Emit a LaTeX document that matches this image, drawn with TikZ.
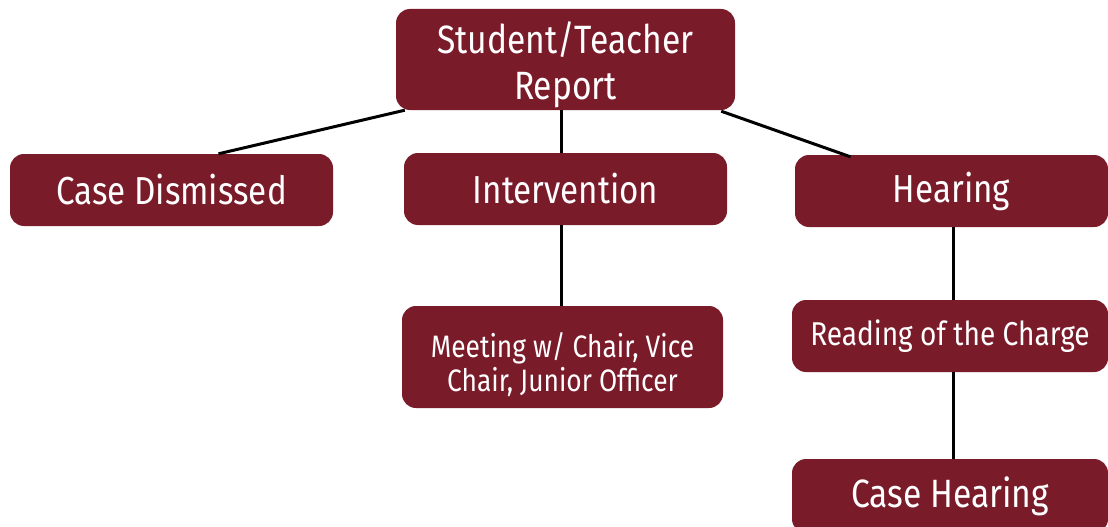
\documentclass[tikz,border=0pt]{standalone}
\usepackage{fontspec}
\setmainfont{Fira Sans}[FakeStretch=0.85]
\usetikzlibrary{calc}
\definecolor{maroon}{RGB}{122,27,42}
\tikzset{
  box/.style={draw=none, fill=maroon, rounded corners=14pt, text=white, align=center, inner sep=0pt},
  link/.style={line width=3pt, black},
}
\begin{document}
\begin{tikzpicture}[x=1pt,y=-1pt]
\useasboundingbox (0,0) rectangle (1108,527);
\node[box, minimum width=339pt, minimum height=101pt, font=\fontsize{39.5}{46}\selectfont] (top) at (565.5,59.5) {\raisebox{-14pt}[0pt][0pt]{\begin{tabular}{@{}c@{}}Student/Teacher\\Report\end{tabular}}};
\node[box, minimum width=323pt, minimum height=72pt, font=\fontsize{39}{40}\selectfont] (cd) at (171.5,190) {Case Dismissed};
\node[box, minimum width=323pt, minimum height=72pt, font=\fontsize{39}{40}\selectfont] (int) at (565.5,189) {Intervention};
\node[box, minimum width=313pt, minimum height=72pt, font=\fontsize{39}{40}\selectfont] (hear) at (951.5,191) {Hearing};
\node[box, minimum width=321pt, minimum height=102pt, font=\fontsize{31}{34}\selectfont] (meet) at (562.5,357) {\raisebox{-16pt}[0pt][0pt]{\begin{tabular}{@{}c@{}}Meeting w/ Chair, Vice\\Chair, Junior Officer\end{tabular}}};
\node[box, minimum width=316pt, minimum height=72pt, font=\fontsize{33}{34}\selectfont] (read) at (950,336) {Reading of the Charge};
\node[box, minimum width=316pt, minimum height=74pt, font=\fontsize{39.5}{40}\selectfont] (ch) at (950,496) {Case Hearing};
\draw[link] ($(top.south west)+(9,0)$) -- ($(cd.north)+(47,0)$);
\draw[link] ($(top.south)+(-4,0)$) -- ($(int.north)+(-4,0)$);
\draw[link] ($(top.south east)+(-14,1)$) -- ($(hear.north)+(-101,2)$);
\draw[link] ($(int.south)+(-4,0)$) -- ($(meet.north)+(-1,0)$);
\draw[link] ($(hear.south)+(2,0)$) -- ($(read.north)+(3.5,0)$);
\draw[link] ($(read.south)+(3,0)$) -- ($(ch.north)+(3,0)$);
\end{tikzpicture}
\end{document}
